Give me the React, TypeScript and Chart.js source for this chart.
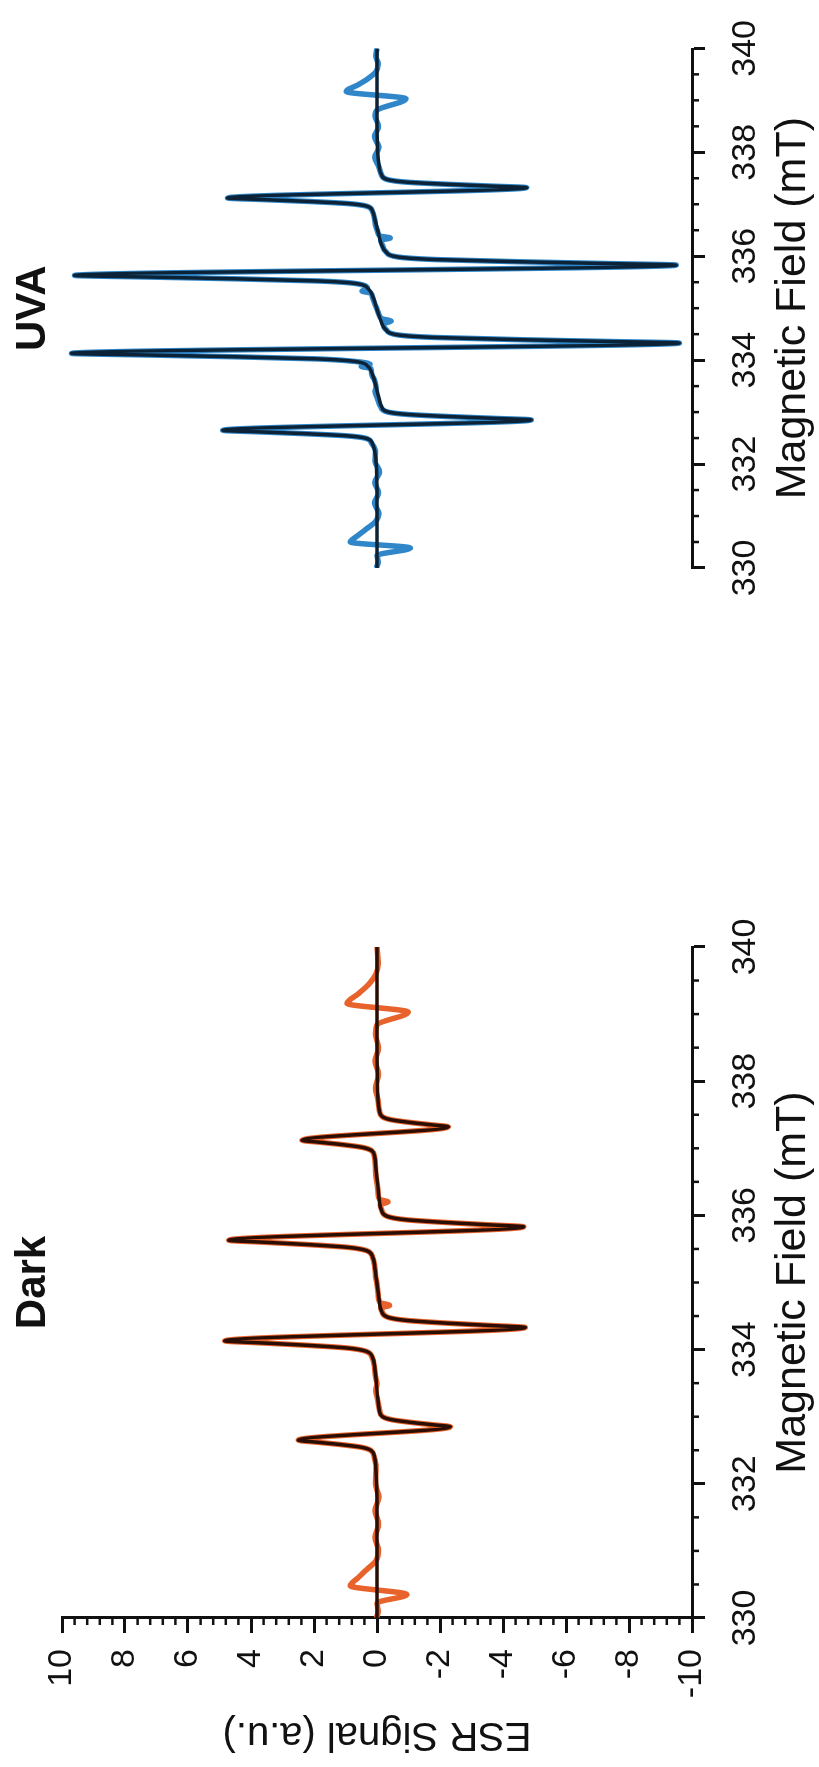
import React, { useEffect, useRef } from 'react';
import { Chart, registerables } from 'chart.js';

Chart.register(...registerables);

const FONT = "'Liberation Sans', Arial, Helvetica, sans-serif";

// ---------- data ----------
const panelTitles = ['Dark', 'UVA'];
const fieldRange = [330, 340];
const signalRange = [-10, 10];
const fieldMinorTicks = [330.5, 331, 331.5, 332.5, 333, 333.5, 334.5, 335, 335.5, 336.5, 337, 337.5, 338.5, 339, 339.5];
const signalMinorTicks = [
  -9.6, -9.2, -8.8, -8.4, -7.6, -7.2, -6.8, -6.4, -5.6, -5.2, -4.8, -4.4, -3.6, -3.2, -2.8, -2.4, -1.6, -1.2, -0.8, -0.4,
  0.4, 0.8, 1.2, 1.6, 2.4, 2.8, 3.2, 3.6, 4.4, 4.8, 5.2, 5.6, 6.4, 6.8, 7.2, 7.6, 8.4, 8.8, 9.2, 9.6,
];

// simulated (fit) spectra, shared field axis
const fitField = [
  330.0, 331.5,
  332.25, 332.40, 332.495, 332.545, 332.587, 332.62, 332.65, 332.85, 332.88, 332.913, 332.955, 333.005, 333.10, 333.25,
  333.49,
  333.73, 333.88, 333.975, 334.025, 334.067, 334.10, 334.13, 334.33, 334.36, 334.393, 334.435, 334.485, 334.58, 334.73,
  334.98,
  335.23, 335.38, 335.475, 335.525, 335.567, 335.60, 335.63, 335.83, 335.86, 335.893, 335.935, 335.985, 336.08, 336.23,
  336.475,
  336.72, 336.87, 336.965, 337.015, 337.057, 337.09, 337.12, 337.32, 337.35, 337.383, 337.425, 337.475, 337.57, 337.72,
  338.5, 340.0,
];
const darkFit = [
  0, 0,
  0.04, 0.08, 0.18, 0.5, 1.2, 1.9, 2.5, -2.33, -1.77, -1.12, -0.47, -0.16, -0.07, -0.03,
  0.02,
  0.07, 0.14, 0.34, 0.97, 2.32, 3.67, 4.83, -4.71, -3.58, -2.26, -0.94, -0.33, -0.14, -0.07,
  0,
  0.07, 0.14, 0.33, 0.94, 2.26, 3.58, 4.71, -4.66, -3.54, -2.24, -0.93, -0.33, -0.14, -0.07,
  -0.02,
  0.04, 0.07, 0.17, 0.48, 1.14, 1.81, 2.38, -2.27, -1.73, -1.09, -0.45, -0.16, -0.07, -0.03,
  0, 0,
];
const uvaFit = [
  0, 0,
  0.07, 0.15, 0.34, 0.98, 2.35, 3.72, 4.9, -4.9, -3.72, -2.35, -0.98, -0.34, -0.15, -0.07,
  0.03,
  0.15, 0.29, 0.68, 1.94, 4.66, 7.37, 9.7, -9.6, -7.3, -4.61, -1.92, -0.67, -0.29, -0.14,
  0,
  0.14, 0.29, 0.67, 1.92, 4.61, 7.3, 9.6, -9.5, -7.22, -4.56, -1.9, -0.67, -0.29, -0.14,
  -0.03,
  0.07, 0.14, 0.33, 0.95, 2.28, 3.61, 4.75, -4.75, -3.61, -2.28, -0.95, -0.33, -0.14, -0.07,
  0, 0,
];

// experimental spectra [field mT, signal a.u.]
const darkExp: [number, number][] = [
  [330.0, 0.02], [330.1, -0.04], [330.22, 0.0], [330.35, -0.95], [330.48, 0.85], [330.6, 0.6], [330.72, 0.33], [330.85, 0.04],
  [331.0, -0.05], [331.2, 0.06], [331.4, -0.05], [331.6, 0.06], [331.8, -0.06], [332.0, 0.05],
  [332.25, 0.03], [332.4, 0.09], [332.495, 0.19], [332.545, 0.5], [332.587, 1.2], [332.62, 1.9], [332.65, 2.5],
  [332.85, -2.33], [332.88, -1.77], [332.913, -1.12], [332.955, -0.47], [333.005, -0.17], [333.1, -0.08], [333.25, -0.02],
  [333.4, 0.04], [333.49, 0.0], [333.6, 0.05],
  [333.73, 0.08], [333.88, 0.15], [333.975, 0.35], [334.025, 0.97], [334.067, 2.32], [334.1, 3.67], [334.13, 4.83],
  [334.33, -4.71], [334.36, -3.58], [334.393, -2.26], [334.435, -0.94], [334.485, -0.33], [334.58, -0.15],
  [334.62, -0.12], [334.66, -0.4], [334.7, -0.1], [334.8, -0.04], [334.98, 0.0],
  [335.1, 0.05], [335.23, 0.07], [335.38, 0.14], [335.475, 0.33], [335.525, 0.94], [335.567, 2.26], [335.6, 3.58], [335.63, 4.71],
  [335.83, -4.66], [335.86, -3.54], [335.893, -2.24], [335.935, -0.93], [335.985, -0.33], [336.08, -0.15],
  [336.16, -0.1], [336.2, -0.35], [336.24, -0.08], [336.35, -0.03], [336.475, 0.0],
  [336.6, 0.04], [336.72, 0.05], [336.87, 0.08], [336.965, 0.17], [337.015, 0.48], [337.057, 1.14], [337.09, 1.81], [337.12, 2.38],
  [337.32, -2.27], [337.35, -1.73], [337.383, -1.09], [337.425, -0.45], [337.475, -0.16], [337.57, -0.07], [337.72, -0.03],
  [337.9, 0.05], [338.1, -0.05], [338.3, 0.06], [338.5, -0.05], [338.7, 0.05], [338.84, 0.0],
  [339.03, -0.99], [339.16, 0.95], [339.3, 0.6], [339.45, 0.25], [339.6, 0.03], [339.75, -0.04], [340.0, 0.0],
];
const uvaExp: [number, number][] = [
  [330.0, 0.02], [330.12, -0.04], [330.24, 0.0], [330.385, -1.06], [330.5, 0.85], [330.62, 0.62], [330.75, 0.34], [330.89, 0.05],
  [331.05, -0.06], [331.25, 0.08], [331.45, -0.05], [331.65, 0.07], [331.85, -0.08], [332.05, 0.06],
  [332.25, 0.05], [332.4, 0.17], [332.495, 0.35], [332.545, 1.0], [332.587, 2.38], [332.62, 3.75], [332.65, 4.9],
  [332.85, -4.9], [332.88, -3.7], [332.913, -2.33], [332.955, -0.97], [333.005, -0.32], [333.1, -0.12], [333.25, -0.02],
  [333.4, 0.06], [333.49, 0.03], [333.62, 0.08],
  [333.73, 0.17], [333.84, 0.2], [333.88, 0.5], [333.92, 0.22], [333.975, 0.7], [334.025, 1.95], [334.067, 4.66], [334.1, 7.37], [334.13, 9.7],
  [334.33, -9.6], [334.36, -7.3], [334.393, -4.61], [334.435, -1.92], [334.485, -0.67], [334.58, -0.3],
  [334.7, -0.2], [334.75, -0.45], [334.8, -0.15], [334.9, -0.05], [334.98, 0.0],
  [335.1, 0.08], [335.23, 0.15], [335.29, 0.2], [335.33, 0.48], [335.37, 0.3], [335.475, 0.68], [335.525, 1.93], [335.567, 4.61], [335.6, 7.3], [335.63, 9.6],
  [335.83, -9.5], [335.86, -7.22], [335.893, -4.56], [335.935, -1.9], [335.985, -0.67], [336.08, -0.29], [336.23, -0.16],
  [336.31, -0.12], [336.35, -0.42], [336.39, -0.1], [336.475, -0.02],
  [336.6, 0.05], [336.72, 0.08], [336.87, 0.15], [336.965, 0.34], [337.015, 0.96], [337.057, 2.28], [337.09, 3.61], [337.12, 4.75],
  [337.32, -4.75], [337.35, -3.61], [337.383, -2.28], [337.425, -0.95], [337.475, -0.33], [337.57, -0.14], [337.72, -0.06],
  [337.9, 0.07], [338.1, -0.06], [338.3, 0.08], [338.5, -0.05], [338.7, 0.06], [338.81, 0.0],
  [339.03, -0.92], [339.17, 0.98], [339.3, 0.6], [339.42, 0.28], [339.55, 0.03], [339.7, -0.04], [339.85, 0.04], [340.0, 0.0],
];

// ---------- layout (figure drawn landscape, then turned a quarter turn) ----------
const PAGE_W = 819;
const PAGE_H = 1767;
const FIG_W = PAGE_H;
const FIG_H = PAGE_W;
const PLOT_TOP = 62;
const PLOT_BOTTOM = 692;
const INK = '#111111';

type PanelSpec = {
  title: string;
  fit: number[];
  exp: [number, number][];
  expColor: string;
  fitColor: string;
  showY: boolean;
  width: number;
  padLeft: number;
  padRight: number;
};

function panelPlugins(spec: PanelSpec) {
  return [
    {
      id: 'minorTicksAndLabel',
      afterDraw(chart: any) {
        const ctx = chart.ctx;
        const xs = chart.scales.x;
        const ys = chart.scales.y;
        const area = chart.chartArea;
        ctx.save();
        ctx.strokeStyle = INK;
        ctx.lineWidth = 2.5;
        for (const v of fieldMinorTicks) {
          const px = xs.getPixelForValue(v);
          ctx.beginPath();
          ctx.moveTo(px, area.bottom);
          ctx.lineTo(px, area.bottom + 7);
          ctx.stroke();
        }
        if (spec.showY) {
          for (const v of signalMinorTicks) {
            const py = ys.getPixelForValue(v);
            ctx.beginPath();
            ctx.moveTo(area.left - 7, py);
            ctx.lineTo(area.left, py);
            ctx.stroke();
          }
        }
        ctx.fillStyle = INK;
        ctx.font = `bold 42px ${FONT}`;
        ctx.textAlign = 'center';
        ctx.textBaseline = 'middle';
        ctx.fillText(spec.title, xs.getPixelForValue((fieldRange[0] + fieldRange[1]) / 2), 33);
        ctx.restore();
      },
    },
  ];
}

function makeConfig(spec: PanelSpec): any {
  const fitPts = fitField.map((x, i) => ({ x, y: spec.fit[i] }));
  const expPts = spec.exp.map(([x, y]) => ({ x, y }));
  return {
    type: 'line',
    data: {
      datasets: [
        {
          label: 'Simulated',
          data: fitPts,
          borderColor: spec.fitColor,
          borderWidth: 3.5,
          pointRadius: 0,
          cubicInterpolationMode: 'monotone',
          fill: false,
          order: 0,
        },
        {
          label: 'Experimental',
          data: expPts,
          borderColor: spec.expColor,
          borderWidth: 5.5,
          pointRadius: 0,
          cubicInterpolationMode: 'monotone',
          fill: false,
          order: 1,
        },
      ],
    },
    options: {
      responsive: false,
      animation: false,
      devicePixelRatio: 1,
      events: [],
      layout: { padding: { left: spec.padLeft, right: spec.padRight, top: PLOT_TOP, bottom: 0 } },
      plugins: { legend: { display: false }, tooltip: { enabled: false }, title: { display: false } },
      scales: {
        x: {
          type: 'linear',
          position: 'bottom',
          min: fieldRange[0],
          max: fieldRange[1],
          afterFit: (s: any) => {
            s.height = FIG_H - PLOT_BOTTOM;
          },
          ticks: {
            stepSize: 2,
            color: INK,
            font: { size: 34, family: FONT },
            padding: 20,
            maxRotation: 0,
            minRotation: 0,
            autoSkip: false,
          },
          grid: { drawOnChartArea: false, drawTicks: true, tickLength: 13, tickWidth: 3, tickColor: INK },
          border: { display: true, color: INK, width: 3 },
          title: {
            display: true,
            text: 'Magnetic Field (mT)',
            color: INK,
            font: { size: 43, family: FONT },
            padding: { top: 0, bottom: 0 },
          },
        },
        y: {
          type: 'linear',
          position: 'left',
          display: spec.showY,
          min: signalRange[0],
          max: signalRange[1],
          afterFit: (s: any) => {
            s.width = 149;
          },
          ticks: {
            stepSize: 2,
            color: INK,
            font: { size: 34, family: FONT },
            padding: 16,
            autoSkip: false,
          },
          grid: { drawOnChartArea: false, drawTicks: true, tickLength: 15, tickWidth: 3, tickColor: INK },
          border: { display: true, color: INK, width: 3 },
          title: {
            display: true,
            text: 'ESR Signal (a.u.)',
            color: INK,
            font: { size: 40, family: FONT },
            padding: { top: 9, bottom: 0 },
          },
        },
      },
    },
    plugins: panelPlugins(spec),
  };
}

const darkSpec: PanelSpec = {
  title: panelTitles[0],
  fit: darkFit,
  exp: darkExp,
  expColor: '#e8622c',
  fitColor: '#2a0e03',
  showY: true,
  width: 935,
  padLeft: 0,
  padRight: 115,
};
const uvaSpec: PanelSpec = {
  title: panelTitles[1],
  fit: uvaFit,
  exp: uvaExp,
  expColor: '#2f86c8',
  fitColor: '#0c2236',
  showY: false,
  width: FIG_W - 935,
  padLeft: 115,
  padRight: 42,
};

function Panel({ spec, left }: { spec: PanelSpec; left: number }) {
  const ref = useRef<HTMLCanvasElement | null>(null);
  useEffect(() => {
    if (!ref.current) return;
    const chart = new Chart(ref.current, makeConfig(spec));
    return () => chart.destroy();
  }, [spec]);
  return (
    <canvas
      ref={ref}
      width={spec.width}
      height={FIG_H}
      style={{ position: 'absolute', left, top: 0, width: spec.width, height: FIG_H, display: 'block' }}
    />
  );
}

export default function App() {
  return (
    <div
      style={{
        position: 'absolute',
        left: 0,
        top: 0,
        width: PAGE_W,
        height: PAGE_H,
        overflow: 'hidden',
        background: '#ffffff',
      }}
    >
      <div
        style={{
          position: 'absolute',
          left: 0,
          top: 0,
          width: FIG_W,
          height: FIG_H,
          transformOrigin: '0 0',
          transform: `translate(0px, ${PAGE_H}px) rotate(-90deg)`,
        }}
      >
        <Panel spec={darkSpec} left={0} />
        <Panel spec={uvaSpec} left={935} />
      </div>
    </div>
  );
}
